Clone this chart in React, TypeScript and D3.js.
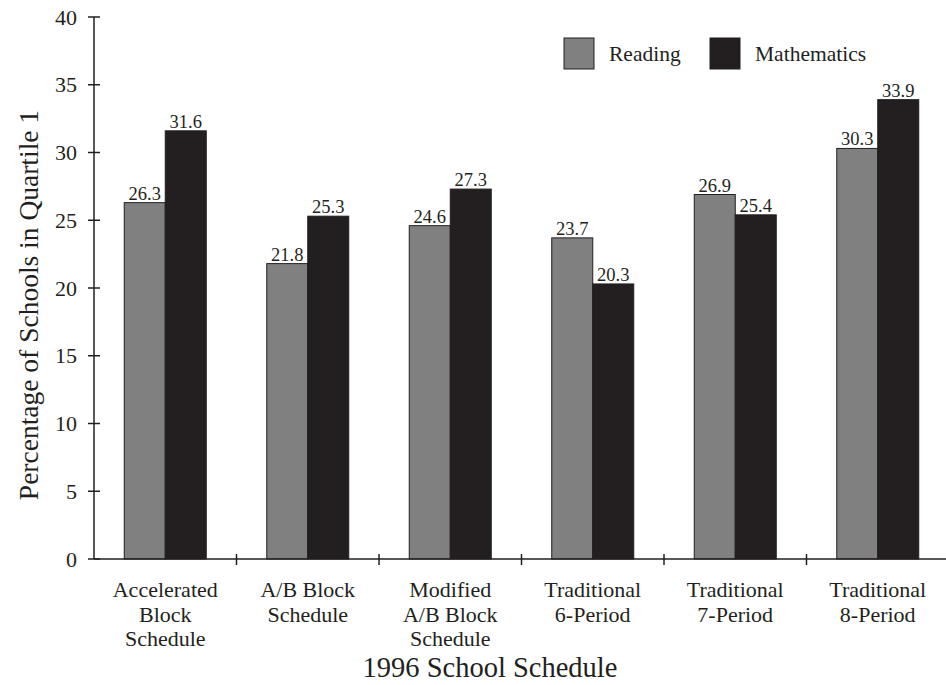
import { useMemo } from "react";
import { scaleBand, scaleLinear } from "d3";

const categories = [
  ["Accelerated", "Block", "Schedule"],
  ["A/B Block", "Schedule"],
  ["Modified", "A/B Block", "Schedule"],
  ["Traditional", "6-Period"],
  ["Traditional", "7-Period"],
  ["Traditional", "8-Period"],
];
const reading = [26.3, 21.8, 24.6, 23.7, 26.9, 30.3];
const mathematics = [31.6, 25.3, 27.3, 20.3, 25.4, 33.9];
const yTicks = [0, 5, 10, 15, 20, 25, 30, 35, 40];
const seriesNames = ["Reading", "Mathematics"];

const WIDTH = 946;
const HEIGHT = 685;
const MARGIN = { top: 17, right: -3, bottom: 126, left: 94 };
const COLORS = ["#808080", "#231f20"];
const INK = "#231f20";
const FONT = "'Liberation Serif', 'DejaVu Serif', serif";

export default function App() {
  const innerWidth = WIDTH - MARGIN.left - MARGIN.right;
  const innerHeight = HEIGHT - MARGIN.top - MARGIN.bottom;

  const scales = useMemo(() => {
    const x = scaleBand<number>()
      .domain(categories.map((_, i) => i))
      .range([0, innerWidth])
      .paddingInner(0)
      .paddingOuter(0);
    const inner = scaleBand<number>().domain([0, 1]).range([0, 82]);
    const y = scaleLinear().domain([0, 40]).range([innerHeight, 0]);
    return { x, inner, y };
  }, [innerWidth, innerHeight]);

  const { x, inner, y } = scales;
  const series = [reading, mathematics];

  return (
    <svg width={WIDTH} height={HEIGHT} style={{ position: "absolute", left: 0, top: 0 }} fontFamily={FONT}>
      <rect width={WIDTH} height={HEIGHT} fill="#fff" />
      <g transform={`translate(${MARGIN.left},${MARGIN.top})`}>
        {/* bars */}
        {categories.map((_, ci) => {
          const gx = (x(ci) ?? 0) + (x.bandwidth() - 82) / 2;
          return series.map((vals, si) => (
            <g key={`${ci}-${si}`}>
              <rect
                x={gx + (inner(si) ?? 0)}
                y={y(vals[ci])}
                width={inner.bandwidth()}
                height={innerHeight - y(vals[ci])}
                fill={COLORS[si]}
                stroke={INK}
                strokeWidth={1}
              />
              <text
                x={gx + (inner(si) ?? 0) + inner.bandwidth() / 2}
                y={y(vals[ci]) - 3}
                textAnchor="middle"
                fontSize={18.5}
                fill={INK}
              >
                {vals[ci].toFixed(1)}
              </text>
            </g>
          ));
        })}

        {/* y axis */}
        <line x1={0} x2={0} y1={0} y2={innerHeight} stroke={INK} strokeWidth={1.5} />
        {yTicks.map((t) => (
          <g key={t} transform={`translate(0,${y(t)})`}>
            <line x1={-6} x2={6} stroke={INK} strokeWidth={1.5} />
            <text x={-17} dy="0.35em" textAnchor="end" fontSize={22} fill={INK}>
              {t}
            </text>
          </g>
        ))}

        {/* x axis */}
        <line x1={0} x2={innerWidth} y1={innerHeight} y2={innerHeight} stroke={INK} strokeWidth={1.5} />
        {categories.map((_, ci) =>
          ci === 0 ? null : (
            <line
              key={ci}
              x1={x(ci)}
              x2={x(ci)}
              y1={innerHeight - 5}
              y2={innerHeight + 6}
              stroke={INK}
              strokeWidth={1.5}
            />
          )
        )}
        {categories.map((lines, ci) => (
          <text
            key={ci}
            x={(x(ci) ?? 0) + x.bandwidth() / 2}
            y={597 - MARGIN.top}
            textAnchor="middle"
            fontSize={22}
            fill={INK}
          >
            {lines.map((l, li) => (
              <tspan key={li} x={(x(ci) ?? 0) + x.bandwidth() / 2} dy={li === 0 ? 0 : 24.5}>
                {l}
              </tspan>
            ))}
          </text>
        ))}
      </g>

      {/* axis titles */}
      <text x={490} y={677} textAnchor="middle" fontSize={28.5} fill={INK}>
        1996 School Schedule
      </text>
      <text
        transform="translate(38,305) rotate(-90)"
        textAnchor="middle"
        fontSize={27.5}
        fill={INK}
      >
        Percentage of Schools in Quartile 1
      </text>

      {/* legend */}
      {seriesNames.map((name, i) => (
        <g key={name} transform={`translate(${564 + i * 146},38)`}>
          <rect width={30} height={31} fill={COLORS[i]} stroke={INK} strokeWidth={1} />
          <text x={45} y={23} fontSize={21.5} fill={INK}>
            {name}
          </text>
        </g>
      ))}
    </svg>
  );
}
